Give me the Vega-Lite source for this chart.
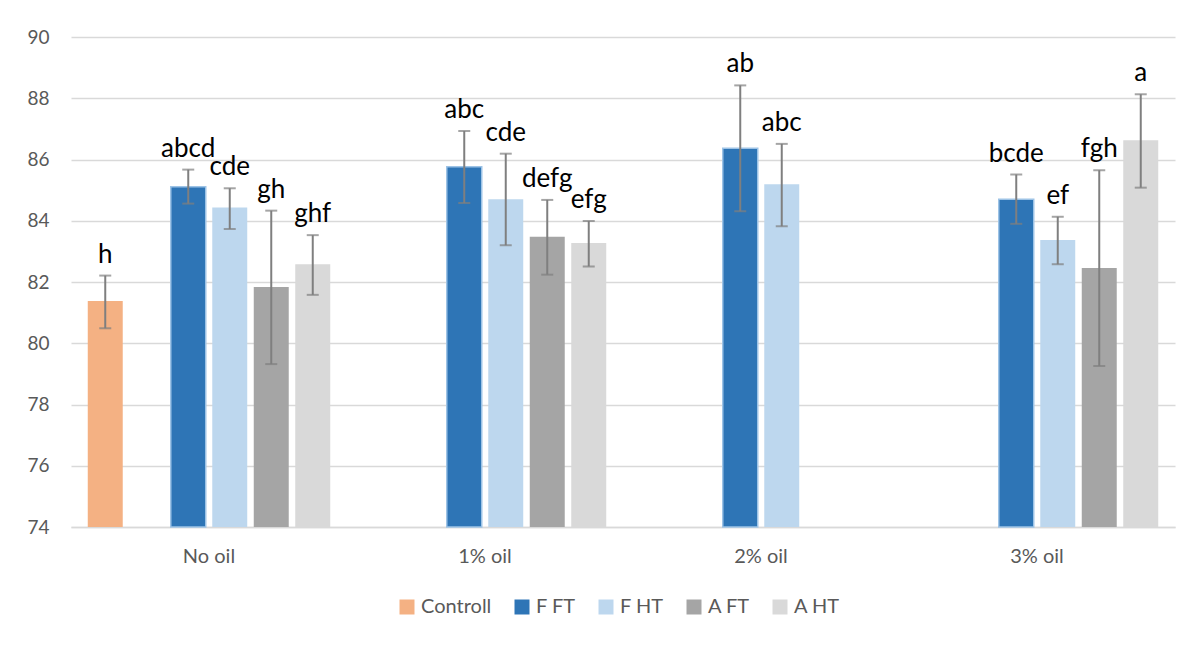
{
  "$schema": "https://vega.github.io/schema/vega-lite/v6.json",
  "autosize": "none",
  "width": 1104,
  "height": 490,
  "padding": {"left": 71, "top": 37, "right": 25, "bottom": 119},
  "background": "white",
  "config": {
    "font": "Lato",
    "view": {"stroke": null},
    "axis": {"labelFont": "Lato", "labelColor": "#595959", "labelFontSize": 18}
  },
  "data": {
    "values": [
      {"cat": "No oil", "series": "Controll", "value": 81.38, "lo": 80.49, "hi": 82.21, "label": "h"},
      {"cat": "No oil", "series": "F FT", "value": 85.11, "lo": 84.56, "hi": 85.67, "label": "abcd"},
      {"cat": "No oil", "series": "F HT", "value": 84.43, "lo": 83.73, "hi": 85.06, "label": "cde"},
      {"cat": "No oil", "series": "A FT", "value": 81.84, "lo": 79.32, "hi": 84.33, "label": "gh"},
      {"cat": "No oil", "series": "A HT", "value": 82.58, "lo": 81.58, "hi": 83.53, "label": "ghf"},
      {"cat": "1% oil", "series": "F FT", "value": 85.76, "lo": 84.58, "hi": 86.93, "label": "abc"},
      {"cat": "1% oil", "series": "F HT", "value": 84.70, "lo": 83.20, "hi": 86.19, "label": "cde"},
      {"cat": "1% oil", "series": "A FT", "value": 83.48, "lo": 82.24, "hi": 84.68, "label": "defg"},
      {"cat": "1% oil", "series": "A HT", "value": 83.27, "lo": 82.51, "hi": 83.99, "label": "efg"},
      {"cat": "2% oil", "series": "F FT", "value": 86.37, "lo": 84.31, "hi": 88.42, "label": "ab"},
      {"cat": "2% oil", "series": "F HT", "value": 85.19, "lo": 83.82, "hi": 86.51, "label": "abc"},
      {"cat": "3% oil", "series": "F FT", "value": 84.70, "lo": 83.90, "hi": 85.51, "label": "bcde"},
      {"cat": "3% oil", "series": "F HT", "value": 83.37, "lo": 82.58, "hi": 84.13, "label": "ef"},
      {"cat": "3% oil", "series": "A FT", "value": 82.46, "lo": 79.26, "hi": 85.65, "label": "fgh"},
      {"cat": "3% oil", "series": "A HT", "value": 86.63, "lo": 85.08, "hi": 88.13, "label": "a"}
    ]
  },
  "encoding": {
    "x": {
      "field": "cat", "type": "nominal", "sort": ["No oil", "1% oil", "2% oil", "3% oil"],
      "scale": {"paddingInner": 0.098, "paddingOuter": 0.049},
      "axis": {"title": null, "labelAngle": 0, "ticks": false, "domainColor": "#D9D9D9", "domainWidth": 1.5, "labelPadding": 19, "labelFontSize": 20}
    },
    "xOffset": {
      "field": "series", "type": "nominal",
      "scale": {"domain": ["Controll", "_", "F FT", "F HT", "A FT", "A HT"], "paddingInner": 0.157, "paddingOuter": 0.078}
    }
  },
  "layer": [
    {
      "mark": {"type": "bar"},
      "encoding": {
        "y": {
          "field": "value", "type": "quantitative",
          "scale": {"domain": [74, 90], "nice": false, "zero": false},
          "axis": {"title": null, "values": [74, 76, 78, 80, 82, 84, 86, 88, 90], "ticks": false, "domain": false, "gridColor": "#D9D9D9", "gridWidth": 1.5, "labelPadding": 22, "labelFontSize": 19}
        },
        "y2": {"datum": 74},
        "color": {
          "field": "series", "type": "nominal",
          "scale": {"domain": ["Controll", "F FT", "F HT", "A FT", "A HT"], "range": ["#F4B183", "#2E75B6", "#BDD7EE", "#A5A5A5", "#D9D9D9"]},
          "legend": {
            "title": null, "orient": "none", "legendX": 326, "legendY": 560, "direction": "horizontal",
            "symbolType": "square", "symbolSize": 225, "symbolStrokeWidth": 0,
            "labelFont": "Lato", "labelFontSize": 20, "labelColor": "#595959",
            "labelOffset": 4, "columnPadding": 20
          }
        },
        "stroke": {"condition": {"test": "datum.series === 'F FT'", "value": "#9DC3E6"}, "value": null},
        "strokeWidth": {"condition": {"test": "datum.series === 'F FT'", "value": 1.5}, "value": 0}
      }
    },
    {
      "mark": {"type": "rule", "color": "#7F7F7F", "strokeWidth": 2},
      "encoding": {
        "y": {"field": "lo", "type": "quantitative"},
        "y2": {"field": "hi"}
      }
    },
    {
      "mark": {"type": "tick", "color": "#7F7F7F", "thickness": 2, "size": 12, "orient": "horizontal"},
      "encoding": {"y": {"field": "lo", "type": "quantitative"}}
    },
    {
      "mark": {"type": "tick", "color": "#7F7F7F", "thickness": 2, "size": 12, "orient": "horizontal"},
      "encoding": {"y": {"field": "hi", "type": "quantitative"}}
    },
    {
      "mark": {"type": "text", "fontSize": 26, "color": "#000000", "baseline": "alphabetic", "dy": -13, "font": "Lato"},
      "encoding": {
        "y": {"field": "hi", "type": "quantitative"},
        "text": {"field": "label"}
      }
    }
  ]
}
